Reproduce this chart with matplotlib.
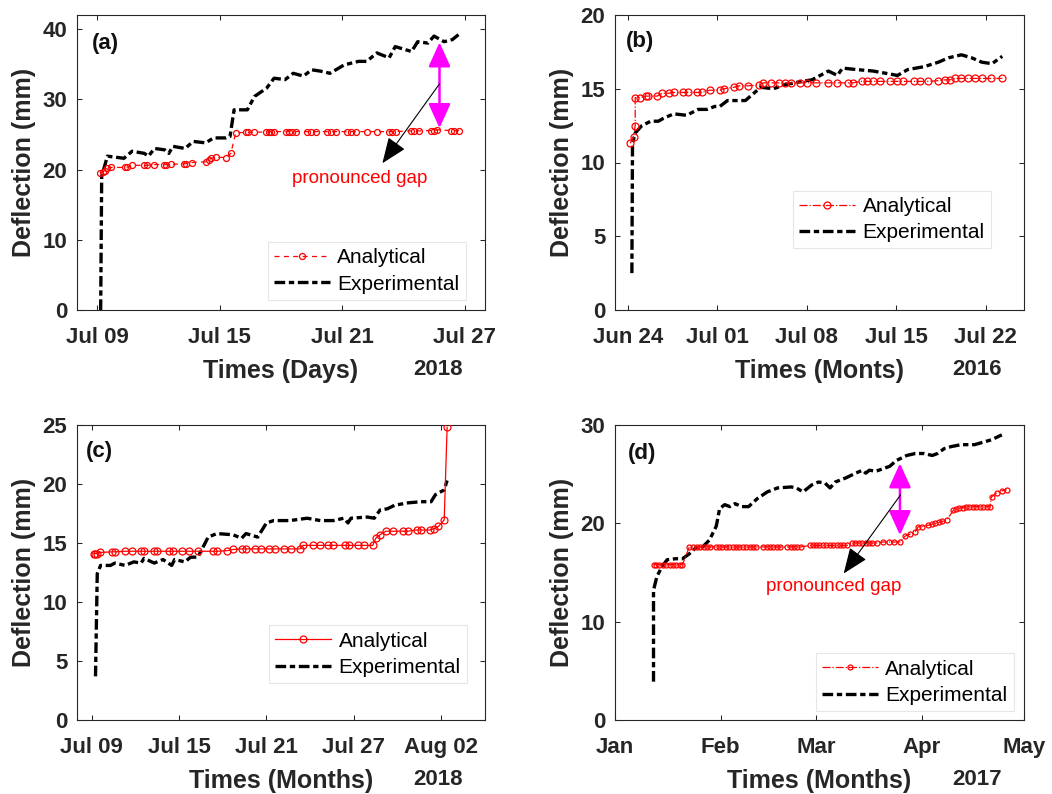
import numpy as np
import pandas as pd
import matplotlib
matplotlib.use('Agg')
import matplotlib.pyplot as plt

plt.rcParams['font.family'] = ['Liberation Sans', 'DejaVu Sans']

# ---- panel (a): days after 2018-07-09 ----
a_exp_day = [0.16, 0.21, 0.49, 1.3, 1.7, 2.3, 2.5, 2.8, 3.3, 3.5,
             3.7, 4.3, 4.7, 5.3, 5.7, 6.3, 6.5, 6.7, 7.35, 7.7,
             8.3, 8.66, 9.2, 9.6, 10.1, 10.5, 10.95, 11.4, 12.1, 12.8,
             13.2, 13.7, 14.3, 14.6, 15.4, 15.7, 16.2, 16.5, 17.0, 17.4,
             17.7]
a_exp_val = [0, 19.0, 21.9, 21.6, 22.6, 22.3, 21.9, 23.0, 22.8, 22.3,
             23.3, 23.0, 24.0, 23.8, 24.5, 24.5, 24.7, 28.5, 28.5, 30.4,
             31.6, 33.0, 32.8, 33.7, 33.3, 34.2, 34.0, 33.7, 34.9, 35.4,
             35.4, 36.6, 35.9, 37.5, 36.8, 38.2, 38.0, 39.0, 38.2, 38.5,
             39.2]
a_ana_day = [0.13, 0.25, 0.36, 0.49, 0.65, 1.34, 1.47, 1.72, 2.29, 2.42,
             2.75, 3.27, 3.38, 3.63, 4.25, 4.36, 4.66, 5.31, 5.47, 5.59,
             5.80, 6.29, 6.54, 6.78, 7.27, 7.39, 7.68, 8.25, 8.42, 8.53,
             8.66, 9.23, 9.40, 9.56, 9.72, 10.29, 10.46, 10.70, 11.27, 11.44,
             11.68, 12.25, 12.42, 12.66, 13.24, 13.73, 14.30, 14.46, 14.62, 15.36,
             15.52, 15.77, 16.34, 16.50, 16.67, 17.32, 17.48, 17.73]
a_ana_val = [19.5, 19.6, 19.85, 20.2, 20.3, 20.3, 20.35, 20.6, 20.6, 20.6,
             20.7, 20.7, 20.7, 20.75, 20.8, 20.85, 21.0, 21.1, 21.4, 21.6,
             21.75, 21.7, 22.3, 25.2, 25.3, 25.3, 25.3, 25.35, 25.35, 25.4,
             25.4, 25.4, 25.4, 25.4, 25.4, 25.4, 25.4, 25.4, 25.4, 25.4,
             25.4, 25.4, 25.4, 25.4, 25.4, 25.4, 25.4, 25.4, 25.4, 25.5,
             25.5, 25.5, 25.55, 25.55, 25.65, 25.55, 25.55, 25.55]

# ---- panel (b): days after 2016-06-24 ----
b_exp_day = [0.32, 0.37, 0.58, 1.1, 1.8, 2.4, 2.8, 3.6, 4.6, 5.5,
             6.2, 6.8, 7.2, 7.8, 9.2, 10.4, 11.4, 12.2, 13.6, 14.4,
             15.7, 16.4, 16.8, 17.9, 19.2, 20.5, 21.1, 21.9, 23.2, 24.3,
             25.1, 26.1, 26.9, 27.7, 28.5, 29.3]
b_exp_val = [2.5, 11.3, 12.0, 12.5, 12.8, 12.8, 13.0, 13.3, 13.2, 13.6,
             13.6, 13.8, 13.8, 14.2, 14.2, 15.1, 15.0, 15.25, 15.5, 15.6,
             16.2, 15.9, 16.4, 16.3, 16.2, 16.0, 15.9, 16.3, 16.5, 16.8,
             17.1, 17.3, 17.1, 16.8, 16.7, 17.2]
b_ana_day = [0.19, 0.45, 0.58, 0.58, 0.98, 1.4, 1.6, 2.3, 2.7, 3.2,
             3.6, 4.3, 4.7, 5.4, 5.8, 6.4, 7.2, 7.5, 8.3, 8.7,
             9.4, 10.3, 10.6, 11.2, 11.8, 12.3, 12.8, 13.5, 14.0, 14.7,
             15.7, 16.4, 17.2, 17.6, 18.3, 18.7, 19.2, 19.7, 20.5, 21.1,
             21.5, 22.4, 22.9, 23.5, 24.3, 24.8, 25.2, 25.6, 26.1, 26.6,
             27.2, 27.7, 28.4, 29.3]
b_ana_val = [11.3, 11.75, 12.5, 14.4, 14.4, 14.5, 14.5, 14.5, 14.7, 14.7,
             14.75, 14.75, 14.75, 14.75, 14.75, 14.9, 14.9, 15.0, 15.1, 15.2,
             15.2, 15.25, 15.4, 15.4, 15.4, 15.4, 15.4, 15.4, 15.4, 15.4,
             15.4, 15.4, 15.4, 15.4, 15.5, 15.5, 15.5, 15.5, 15.5, 15.5,
             15.5, 15.5, 15.5, 15.5, 15.55, 15.6, 15.6, 15.7, 15.7, 15.7,
             15.7, 15.7, 15.7, 15.7]

# ---- panel (c): days after 2018-07-09 ----
c_exp_day = [0.27, 0.39, 0.62, 1.3, 1.6, 2.3, 2.9, 3.4, 3.6, 4.3,
             4.9, 5.5, 5.7, 6.4, 6.8, 7.3, 8.0, 8.6, 9.7, 10.3,
             10.6, 11.4, 12.0, 12.5, 13.6, 14.8, 15.7, 16.6, 17.3, 17.6,
             17.8, 18.9, 19.4, 19.8, 20.3, 20.8, 21.7, 22.6, 23.3, 23.6,
             24.2, 24.4]
c_exp_val = [3.7, 12.4, 13.1, 13.1, 13.3, 13.1, 13.4, 13.3, 13.7, 13.3,
             13.6, 13.1, 13.6, 13.4, 13.8, 13.8, 15.5, 15.8, 15.7, 15.4,
             15.8, 15.5, 16.7, 16.9, 16.9, 17.1, 16.9, 16.9, 17.1, 16.7,
             17.1, 17.2, 17.1, 17.8, 17.9, 18.2, 18.4, 18.5, 18.5, 19.1,
             19.5, 20.3]
c_ana_day = [0.16, 0.25, 0.39, 0.6, 1.4, 1.6, 2.3, 2.8, 3.4, 3.6,
             4.3, 4.5, 5.3, 5.6, 6.2, 6.7, 7.3, 8.3, 8.6, 9.3,
             9.7, 10.3, 10.6, 11.2, 11.6, 12.2, 12.6, 13.2, 13.7, 14.3,
             14.5, 15.2, 15.7, 16.2, 16.6, 17.4, 17.7, 18.3, 18.7, 19.3,
             19.5, 19.8, 20.2, 20.7, 21.4, 21.7, 22.3, 22.6, 23.2, 23.5,
             23.8, 24.2, 24.4]
c_ana_val = [14.1, 14.1, 14.1, 14.2, 14.25, 14.25, 14.3, 14.3, 14.3, 14.3,
             14.3, 14.3, 14.3, 14.3, 14.3, 14.3, 14.3, 14.3, 14.3, 14.35,
             14.45, 14.5, 14.5, 14.5, 14.5, 14.5, 14.5, 14.5, 14.5, 14.5,
             14.8, 14.8, 14.8, 14.8, 14.8, 14.8, 14.8, 14.8, 14.8, 14.8,
             15.4, 15.7, 16.0, 16.0, 16.0, 16.0, 16.1, 16.1, 16.1, 16.2,
             16.4, 16.95, 24.8]

# ---- panel (d): days after 2017-01-01 ----
d_exp_day = [11.3, 11.3, 12.3, 13.8, 15.3, 17.8, 19.8, 21.8, 23.7, 25.7,
             27.7, 29.7, 30.7, 32.2, 33.7, 35.2, 37.2, 39.2, 41.7, 44.7,
             47.7, 51.7, 53.2, 55.2, 57.7, 59.7, 61.6, 63.1, 64.6, 67.6,
             70.6, 72.6, 73.6, 74.6, 76.6, 80.6, 82.6, 85.6, 88.1, 90.6,
             93.1, 94.6, 96.6, 98.6, 101.5, 105.5, 108.5, 110.5, 113.5]
d_exp_val = [3.9, 13.2, 14.6, 15.6, 16.3, 16.4, 16.4, 16.9, 17.5, 17.6,
             18.3, 19.7, 21.5, 21.9, 21.7, 22.0, 21.7, 21.7, 22.5, 23.2,
             23.6, 23.7, 23.6, 23.2, 23.9, 24.2, 24.1, 23.6, 24.2, 24.6,
             25.1, 25.4, 25.1, 25.4, 25.3, 25.8, 26.4, 26.9, 27.1, 27.1,
             26.9, 27.1, 27.6, 27.8, 28.0, 28.0, 28.3, 28.5, 29.0]
d_ana_day = [11.3, 12, 13, 14, 15, 16, 17, 18, 19, 19.8,
             21.8, 23, 24, 25, 26, 27, 28, 29.5, 30.5, 31.5,
             32.5, 33.5, 34.5, 35.5, 36.5, 37.5, 38.5, 39.5, 40.5, 41.5,
             43.5, 44.5, 45.5, 46.5, 47.5, 48.5, 50.5, 51.5, 52.5, 53.5,
             54.5, 57.2, 58, 59, 60, 61, 62, 63, 64, 65,
             66, 67, 68, 69.4, 70.5, 71.5, 72.5, 73.5, 74.5, 75.5,
             76.8, 78.5, 80.5, 82, 83.6, 85.1, 86.6, 88, 89, 90,
             91.9, 93, 94, 95, 96, 97.3, 99.3, 100, 101, 102,
             103, 104, 105, 106, 107, 108, 109, 110, 110.5, 112,
             113.5, 114.9]
d_ana_val = [15.8, 15.8, 15.8, 15.8, 15.8, 15.8, 15.8, 15.8, 15.8, 15.8,
             17.6, 17.6, 17.6, 17.6, 17.6, 17.6, 17.6, 17.6, 17.6, 17.6,
             17.6, 17.6, 17.6, 17.6, 17.6, 17.6, 17.6, 17.6, 17.6, 17.6,
             17.6, 17.6, 17.6, 17.6, 17.6, 17.6, 17.6, 17.6, 17.6, 17.6,
             17.6, 17.75, 17.75, 17.75, 17.75, 17.75, 17.75, 17.75, 17.75, 17.75,
             17.75, 17.75, 17.75, 18.0, 18.0, 18.0, 18.0, 18.0, 18.0, 18.0,
             18.0, 18.1, 18.1, 18.1, 18.1, 18.7, 18.9, 19.1, 19.66, 19.66,
             19.8, 19.9, 20.0, 20.1, 20.2, 20.3, 21.35, 21.45, 21.55, 21.6,
             21.7, 21.7, 21.7, 21.7, 21.7, 21.7, 21.7, 21.7, 22.7, 23.1,
             23.3, 23.4]

# axis ticks
ac_xticks = ['2018-07-09', '2018-07-15', '2018-07-21', '2018-07-27']
ac_xlabels = ['Jul 09', 'Jul 15', 'Jul 21', 'Jul 27']
b_xticks = ['2016-06-24', '2016-07-01', '2016-07-08', '2016-07-15', '2016-07-22']
b_xlabels = ['Jun 24', 'Jul 01', 'Jul 08', 'Jul 15', 'Jul 22']
c_xticks = ['2018-07-09', '2018-07-15', '2018-07-21', '2018-07-27', '2018-08-02']
c_xlabels = ['Jul 09', 'Jul 15', 'Jul 21', 'Jul 27', 'Aug 02']
d_xticks = ['2017-01-01', '2017-02-01', '2017-03-01', '2017-04-01', '2017-05-01']
d_xlabels = ['Jan', 'Feb', 'Mar', 'Apr', 'May']

TXT = '#262626'
RED = '#ff0000'
EXP_DASH = (3.2, 1.1, 1.6, 1.1)


def to_dates(start, days):
    return pd.Timestamp(start) + pd.to_timedelta(days, unit='D')


def style_axes(ax, xlim, ylim, yticks, xticks, xlabels, xlabel, year, tag, tagpos):
    ax.set_xlim(pd.Timestamp(xlim[0]), pd.Timestamp(xlim[1]))
    ax.set_ylim(*ylim)
    ax.set_yticks(yticks, [str(v) for v in yticks], fontweight='bold')
    ax.set_xticks([pd.Timestamp(t) for t in xticks], xlabels, fontweight='bold')
    ax.tick_params(direction='in', length=3.6, width=0.75, top=True, right=True,
                   labelsize=16, colors=TXT)
    ax.tick_params(axis='x', pad=12.5)
    ax.tick_params(axis='y', pad=7)
    for sp in ax.spines.values():
        sp.set_color(TXT)
        sp.set_linewidth(0.8)
    ax.set_xlabel(xlabel, fontsize=18, fontweight='bold', color=TXT, labelpad=8)
    ax.set_ylabel('Deflection (mm)', fontsize=18, fontweight='bold', color=TXT)
    ax.yaxis.set_label_coords(-0.1, 0.5)
    ax.text(0.886, -0.2203, year, transform=ax.transAxes, ha='center', va='baseline',
            fontsize=16, fontweight='bold', color=TXT)
    ax.text(tagpos[0], tagpos[1], tag, transform=ax.transAxes, ha='left', va='center',
            fontsize=16, fontweight='bold', color='#111111')


def add_legend(ax, handles, anchor):
    leg = ax.legend(handles, ['Analytical', 'Experimental'], loc='lower right',
                    bbox_to_anchor=anchor, borderaxespad=0, fontsize=15,
                    fancybox=False, edgecolor='#e6e6e6', framealpha=1,
                    borderpad=0.3, handlelength=2.7, handletextpad=0.35,
                    labelspacing=0.35)
    leg.get_frame().set_linewidth(0.8)


def gap_arrows(ax, x, top, bottom, start, tip, text_xy):
    # magenta double arrow marking the gap
    ax.annotate('', xy=(x, top), xytext=(x, bottom),
                arrowprops=dict(arrowstyle='<|-|>,head_length=0.75,head_width=0.34',
                                color='#ff00ff', lw=1.8, mutation_scale=20,
                                shrinkA=0, shrinkB=0))
    # thin pointer to the label
    ax.annotate('', xy=tip, xytext=start,
                arrowprops=dict(arrowstyle='-|>,head_length=0.8,head_width=0.32',
                                color='black', lw=0.8, mutation_scale=20,
                                shrinkA=0, shrinkB=0))
    ax.text(text_xy[0], text_xy[1], 'pronounced gap', color=RED, fontsize=13.5,
            ha='center', va='center')


fig = plt.figure(figsize=(10.52, 7.94), dpi=100)
W, H = 1052, 794


def px_axes(l, t, r, b):
    return fig.add_axes([l / W, 1 - b / H, (r - l) / W, (b - t) / H])


# (a)
ax = px_axes(77, 15, 485, 310)
t0 = '2018-07-09'
he, = ax.plot(to_dates(t0, a_exp_day), a_exp_val, color='black', lw=2.4, dashes=EXP_DASH)
ha, = ax.plot(to_dates(t0, a_ana_day), a_ana_val, color=RED, lw=0.9, dashes=(4, 3.5),
              marker='o', ms=4.3, mfc='none', mew=0.9, zorder=3)
style_axes(ax, ('2018-07-08', '2018-07-28'), (0, 42), [0, 10, 20, 30, 40],
           ac_xticks, ac_xlabels, 'Times (Days)', '2018', '(a)', (0.037, 0.905))
add_legend(ax, [ha, he], (0.953, 0.034))
gap_arrows(ax, to_dates(t0, 16.77), 38.1, 25.9, (to_dates(t0, 16.77), 32.2),
           (to_dates(t0, 13.97), 20.9), (to_dates(t0, 12.84), 18.76))

# (b)
ax = px_axes(615, 15, 1024, 310)
t0 = '2016-06-24'
he, = ax.plot(to_dates(t0, b_exp_day), b_exp_val, color='black', lw=2.4, dashes=EXP_DASH)
ha, = ax.plot(to_dates(t0, b_ana_day), b_ana_val, color=RED, lw=0.9, ls='-.',
              marker='o', ms=5, mfc='none', mew=0.9, zorder=3)
style_axes(ax, ('2016-06-23', '2016-07-25'), (0, 20), [0, 5, 10, 15, 20],
           b_xticks, b_xlabels, 'Times (Monts)', '2016', '(b)', (0.026, 0.91))
add_legend(ax, [ha, he], (0.919, 0.209))

# (c)
ax = px_axes(77, 425, 485, 720)
t0 = '2018-07-09'
he, = ax.plot(to_dates(t0, c_exp_day), c_exp_val, color='black', lw=2.4, dashes=EXP_DASH)
ha, = ax.plot(to_dates(t0, c_ana_day), c_ana_val, color=RED, lw=0.9, ls='-',
              marker='o', ms=5, mfc='none', mew=0.9, zorder=3)
style_axes(ax, ('2018-07-08', '2018-08-05'), (0, 25), [0, 5, 10, 15, 20, 25],
           c_xticks, c_xlabels, 'Times (Months)', '2018', '(c)', (0.022, 0.91))
add_legend(ax, [ha, he], (0.956, 0.125))

# (d)
ax = px_axes(615, 425, 1024, 720)
t0 = '2017-01-01'
he, = ax.plot(to_dates(t0, d_exp_day), d_exp_val, color='black', lw=2.4, dashes=EXP_DASH)
ha, = ax.plot(to_dates(t0, d_ana_day), d_ana_val, color=RED, lw=0.9, ls='-.',
              marker='o', ms=3.6, mfc='none', mew=0.9, zorder=3)
style_axes(ax, ('2017-01-01', '2017-05-01'), (0, 30), [0, 10, 20, 30],
           d_xticks, d_xlabels, 'Times (Months)', '2017', '(d)', (0.032, 0.904))
add_legend(ax, [ha, he], (0.975, 0.03))
gap_arrows(ax, to_dates(t0, 83.6), 26.1, 18.8, (to_dates(t0, 83.8), 22.9),
           (to_dates(t0, 67.1), 14.9), (to_dates(t0, 64.1), 13.6))

fig.savefig('out.png', dpi=100, facecolor='white')
